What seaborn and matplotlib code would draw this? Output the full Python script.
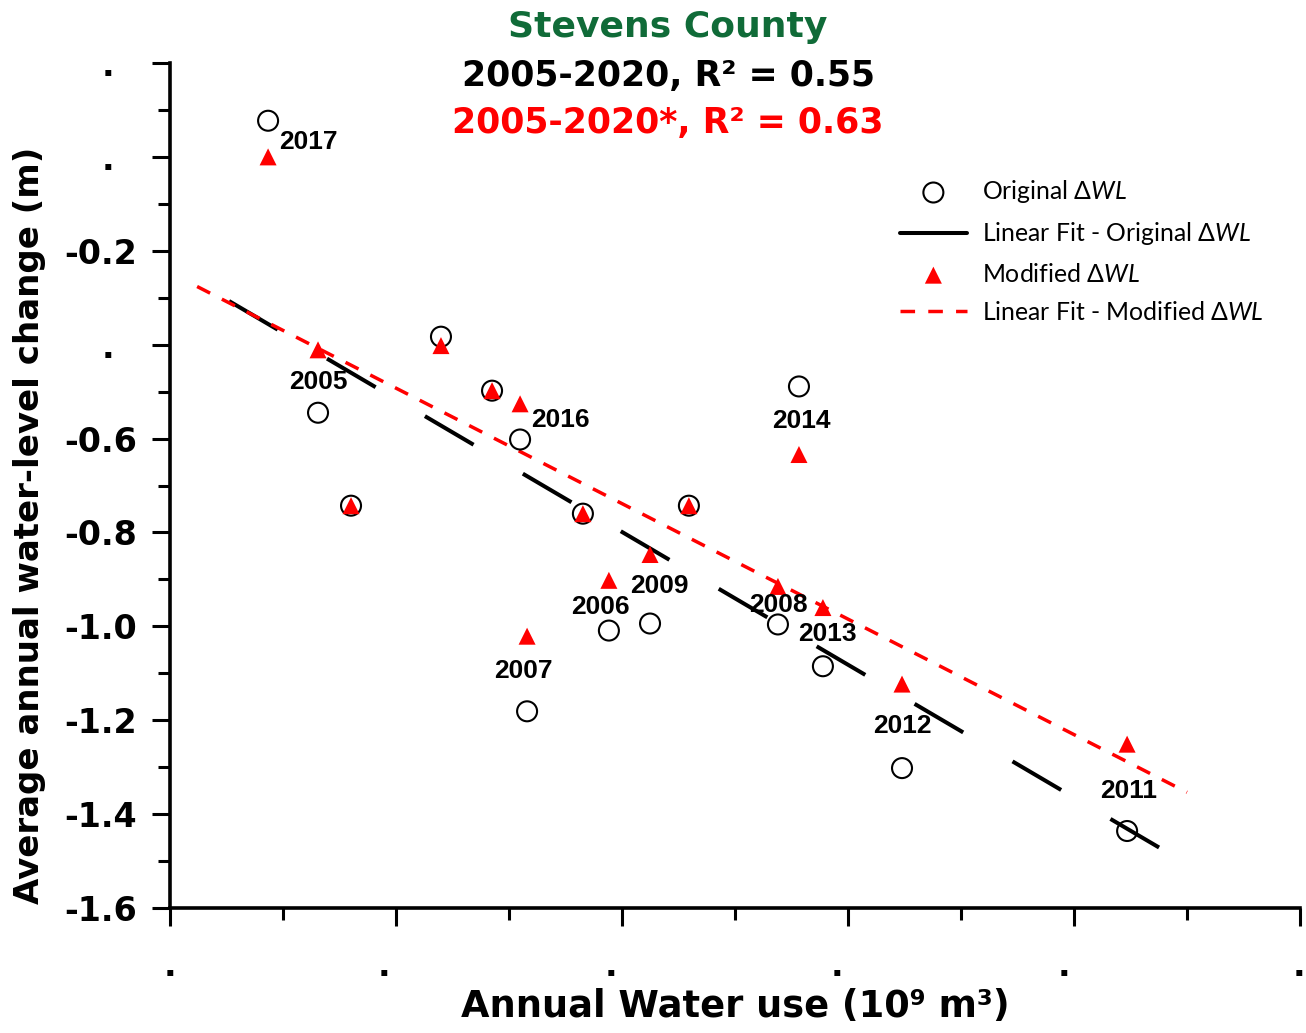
import matplotlib
matplotlib.use('Agg')
import matplotlib.pyplot as plt
import matplotlib.transforms as mtransforms
from matplotlib.ticker import MultipleLocator
import pandas as pd
import seaborn as sns

# values (x: annual water use, y: average annual water-level change in m)
years = ['2017', '2005', '', '', '', '2016', '2007', '', '2006', '2009', '', '2008', '2014', '2013', '2012', '2011']
water_use = [0.434, 0.655, 0.801, 1.199, 1.425, 1.549, 1.580, 1.827, 1.942, 2.124, 2.296, 2.690, 2.783, 2.889, 3.239, 4.235]
dwl_original = [0.077, -0.545, -0.743, -0.383, -0.498, -0.602, -1.181, -0.760, -1.009, -0.994,
                -0.743, -0.996, -0.489, -1.085, -1.302, -1.436]
dwl_modified = [0.000, -0.411, -0.743, -0.402, -0.498, -0.526, -1.021, -0.760, -0.902, -0.847,
                -0.743, -0.915, -0.634, -0.960, -1.123, -1.251]

# x range over which the fitted lines are drawn
fit_span = (0.12, 4.5)

ytick_vals = [-1.6, -1.4, -1.2, -1.0, -0.8, -0.6, -0.4, -0.2, 0.0, 0.2]
ytick_text = ['-1.6', '-1.4', '-1.2', '-1.0', '-0.8', '-0.6', '.', '-0.2', '.', '.']
xtick_vals = [0, 1, 2, 3, 4, 5]
xtick_text = ['.', '.', '.', '.', '.', '.']

title_lines = ['Stevens County', '2005-2020, R\u00b2 = 0.55', '2005-2020*, R\u00b2 = 0.63']
title_colors = ['#106b38', 'black', 'red']
title_sizes = [26, 25, 25]

lab_orig = 'Original \u0394$\\mathit{WL}$'
lab_fit_orig = 'Linear Fit - Original \u0394$\\mathit{WL}$'
lab_mod = 'Modified \u0394$\\mathit{WL}$'
lab_fit_mod = 'Linear Fit - Modified \u0394$\\mathit{WL}$'

# where the year labels sit relative to their circle (points)
label_offsets = {
    '2017': (29, -15), '2005': (0, 22), '2016': (29, 14), '2007': (-3, 29),
    '2006': (-6, 17), '2009': (7, 27), '2014': (2, -25), '2008': (0, 14),
    '2013': (3, 23), '2012': (0, 30), '2011': (1, 29),
}

df = pd.DataFrame({'year': years, 'use': water_use, 'orig': dwl_original, 'mod': dwl_modified})

sns.set_style('ticks')
plt.rcParams['font.family'] = ['DejaVu Sans']
plt.rcParams['text.color'] = 'black'
plt.rcParams['axes.labelcolor'] = 'black'
plt.rcParams['axes.edgecolor'] = 'black'
plt.rcParams['xtick.color'] = 'black'
plt.rcParams['ytick.color'] = 'black'
plt.rcParams['mathtext.fontset'] = 'custom'
plt.rcParams['mathtext.rm'] = 'Lato'
plt.rcParams['mathtext.it'] = 'Lato:italic'

fig = plt.figure(figsize=(13.06, 10.33), dpi=100)
ax = fig.add_axes([170 / 1306, 1 - 908 / 1033, 1130 / 1306, 845 / 1033])

# fitted lines, drawn across fit_span
ax.set_xlim(*fit_span)
sns.regplot(data=df, x='use', y='orig', ax=ax, scatter=False, ci=None, truncate=False, color='black',
            label=lab_fit_orig, line_kws=dict(lw=2.9, linestyle=(19, (14, 14.2)), zorder=2))
sns.regplot(data=df, x='use', y='mod', ax=ax, scatter=False, ci=None, truncate=False, color='red',
            label=lab_fit_mod, line_kws=dict(lw=2.5, linestyle=(0, (4.2, 3.8)), zorder=2))

sns.scatterplot(data=df, x='use', y='orig', ax=ax, marker='o', s=207, facecolor='none',
                edgecolor='black', linewidth=1.5, zorder=3, label=lab_orig)
sns.scatterplot(data=df, x='use', y='mod', ax=ax, marker='^', s=150, color='red',
                edgecolor='none', zorder=4, label=lab_mod)

for yr, xv, yv in zip(df['year'], df['use'], df['orig']):
    if yr:
        ax.annotate(yr, (xv, yv), xytext=label_offsets[yr], textcoords='offset points',
                    ha='center', va='center', fontsize=19, fontweight='bold', color='black',
                    family='Liberation Sans', zorder=5)

ax.set_xlim(0, 5)
ax.set_ylim(-1.6, 0.2)
ax.set_yticks(ytick_vals, ytick_text)
ax.set_xticks(xtick_vals, xtick_text)
ax.yaxis.set_minor_locator(MultipleLocator(0.1))
ax.xaxis.set_minor_locator(MultipleLocator(0.5))
sns.despine(ax=ax)
for side in ['left', 'bottom']:
    ax.spines[side].set_linewidth(2.6)
ax.tick_params(which='major', length=13, width=2.2, labelsize=24)
ax.tick_params(which='minor', length=8.6, width=2.2)
ax.tick_params(axis='y', which='major', pad=10.8)
ax.tick_params(axis='x', which='major', pad=17.5)
for lbl in ax.get_xticklabels() + ax.get_yticklabels():
    lbl.set_fontweight('bold')

# the dot-only labels sit off-centre in the original
for lbl in ax.get_yticklabels():
    if lbl.get_text() == '.':
        lbl.set_transform(lbl.get_transform() +
                          mtransforms.ScaledTranslation(-0.23, 0, fig.dpi_scale_trans))
xdot_shift = [0, -0.12, -0.11, -0.11, -0.10, -0.01]
for lbl, sh in zip(ax.get_xticklabels(), xdot_shift):
    lbl.set_transform(lbl.get_transform() + mtransforms.ScaledTranslation(sh, 0, fig.dpi_scale_trans))

ax.set_xlabel('Annual Water use (10\u2079 m\u00b3)', fontsize=26.5, fontweight='bold')
ax.set_ylabel('Average annual water-level change (m)', fontsize=24.5, fontweight='bold')
ax.xaxis.set_label_coords(0.5, -0.095)
ax.xaxis.label.set_va('top')
ax.yaxis.set_label_coords(-0.11, 0.453)

for txt, col, fs, ypx in zip(title_lines, title_colors, title_sizes, [37, 86, 133]):
    fig.text(668 / 1306, 1 - ypx / 1033, txt, color=col, fontsize=fs, fontweight='bold',
             ha='center', va='baseline')

handles, labels = ax.get_legend_handles_labels()
order = [labels.index(l) for l in [lab_orig, lab_fit_orig, lab_mod, lab_fit_mod]]
leg = ax.legend([handles[i] for i in order], [labels[i] for i in order], loc='upper left',
                bbox_to_anchor=(900 / 1306, 1 - 178 / 1033), bbox_transform=fig.transFigure,
                frameon=False, borderpad=0, borderaxespad=0, handlelength=2.7, handletextpad=0.6,
                labelspacing=0.62, prop={'family': ['Lato', 'DejaVu Sans'], 'size': 17.8})
# black fit is shown as a solid stroke in the key
leg.get_lines()[0].set_linestyle('-')

plt.savefig('out.png', dpi=100)
